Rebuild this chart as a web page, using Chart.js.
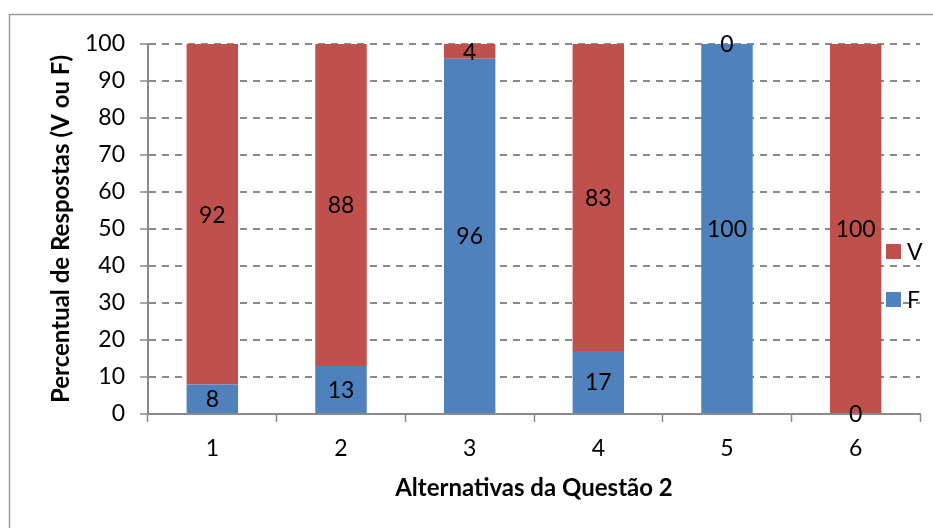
<!DOCTYPE html>
<html>
<head>
<meta charset="utf-8">
<script src="https://cdn.jsdelivr.net/npm/chart.js@4/dist/chart.umd.min.js"></script>
<style>
  html, body { margin: 0; padding: 0; background: #ffffff; }
  #wrap { width: 933px; height: 528px; }
</style>
</head>
<body>
<div id="wrap"><canvas id="chart" width="933" height="528"></canvas></div>
<script>
// Alternatives of question 2 and the share of answers marked true (V) or false (F)
const categories = ['1', '2', '3', '4', '5', '6'];
const falseValues = [8, 13, 96, 17, 100, 0];
const trueValues = [92, 88, 4, 83, 0, 100];
const yTicks = [0, 10, 20, 30, 40, 50, 60, 70, 80, 90, 100];

const FONT = 'Lato, "Noto Sans", sans-serif';
const GRID = '#8a8a8a';
const TEXT_SIZE = 23;
const TITLE_SIZE = 24;

// Light grey frame around the whole figure
const framePlugin = {
  id: 'frame',
  beforeDraw(chart) {
    const ctx = chart.ctx;
    ctx.save();
    ctx.fillStyle = '#ffffff';
    ctx.fillRect(0, 0, chart.width, chart.height);
    ctx.strokeStyle = '#9a9a9a';
    ctx.lineWidth = 1.5;
    ctx.strokeRect(9.5, 14.5, chart.width + 20, chart.height + 20);
    ctx.restore();
  }
};

// Value written in the middle of each stacked segment
const segmentLabels = {
  id: 'segmentLabels',
  afterDatasetsDraw(chart) {
    const ctx = chart.ctx;
    const area = chart.chartArea;
    ctx.save();
    ctx.font = TEXT_SIZE + 'px ' + FONT;
    ctx.fillStyle = '#000000';
    ctx.textAlign = 'center';
    ctx.textBaseline = 'middle';
    chart.data.datasets.forEach((ds, i) => {
      const meta = chart.getDatasetMeta(i);
      meta.data.forEach((bar, j) => {
        const p = bar.getProps(['x', 'y', 'base'], true);
        const top = Math.max(Math.min(p.y, p.base), area.top);
        const bottom = Math.max(p.y, p.base);
        ctx.fillText(String(ds.data[j]), p.x, (top + bottom) / 2 + 1);
      });
    });
    ctx.restore();
  }
};

// Legend on the right, series listed top-down in reverse stacking order
const sideLegend = {
  id: 'sideLegend',
  afterDraw(chart) {
    const ctx = chart.ctx;
    const x = 886, y0 = 244, step = 48, box = 15;
    ctx.save();
    ctx.font = TEXT_SIZE + 'px ' + FONT;
    ctx.textAlign = 'left';
    ctx.textBaseline = 'middle';
    const items = chart.data.datasets.slice().reverse();
    items.forEach((ds, k) => {
      const y = y0 + k * step;
      ctx.fillStyle = ds.backgroundColor;
      ctx.fillRect(x, y, box, box);
      ctx.fillStyle = '#000000';
      ctx.fillText(ds.label, x + 21, y + box / 2 + 1);
    });
    ctx.restore();
  }
};

new Chart(document.getElementById('chart'), {
  type: 'bar',
  data: {
    labels: categories,
    datasets: [
      { label: 'F', data: falseValues, backgroundColor: '#4f81bd', borderWidth: 0 },
      { label: 'V', data: trueValues, backgroundColor: '#c0504d', borderWidth: 0 }
    ]
  },
  options: {
    responsive: false,
    animation: false,
    devicePixelRatio: 1,
    categoryPercentage: 1.0,
    barPercentage: 0.4,
    layout: { padding: { left: 40, right: 13, top: 44, bottom: 20 } },
    plugins: {
      legend: { display: false },
      tooltip: { enabled: false }
    },
    scales: {
      x: {
        stacked: true,
        offset: true,
        grid: {
          offset: true,
          drawOnChartArea: false,
          drawTicks: true,
          tickLength: 8,
          tickColor: GRID,
          tickWidth: 1.5
        },
        border: { display: true, color: GRID, width: 2 },
        ticks: { color: '#000000', font: { family: FONT, size: TEXT_SIZE }, padding: 13 },
        title: {
          display: true,
          text: 'Alternativas da Questão 2',
          color: '#000000',
          font: { family: FONT, size: TITLE_SIZE, weight: 'bold' },
          padding: { top: 0, bottom: 5 }
        },
        afterFit(scale) { scale.height = 94; }
      },
      y: {
        stacked: true,
        min: 0,
        max: 100,
        afterBuildTicks(scale) { scale.ticks = yTicks.map(v => ({ value: v })); },
        grid: {
          color: GRID,
          lineWidth: 2,
          drawTicks: true,
          tickLength: 8,
          tickColor: GRID,
          tickWidth: 1.5,
          tickBorderDash: []
        },
        border: { display: true, color: GRID, width: 2, dash: [7, 6] },
        ticks: { color: '#000000', font: { family: FONT, size: TEXT_SIZE }, padding: 15 },
        title: {
          display: true,
          text: 'Percentual de Respostas (V ou F)',
          color: '#000000',
          font: { family: FONT, size: TITLE_SIZE, weight: 'bold' },
          padding: { top: 7, bottom: 0 }
        },
        afterFit(scale) { scale.width = 108; }
      }
    }
  },
  plugins: [framePlugin, segmentLabels, sideLegend]
});
</script>
</body>
</html>
